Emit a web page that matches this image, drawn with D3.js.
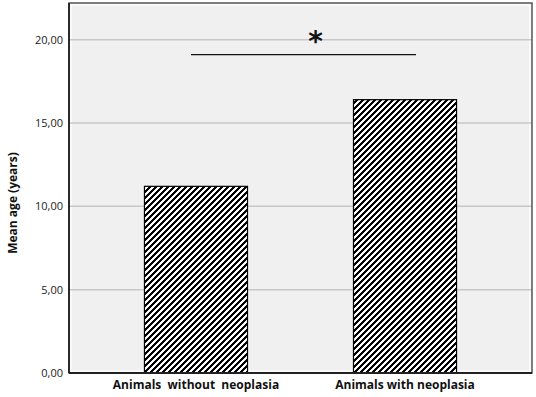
<!DOCTYPE html>
<html><head><meta charset="utf-8">
<script src="https://cdn.jsdelivr.net/npm/d3@7/dist/d3.min.js"></script>
<style>html,body{margin:0;padding:0;background:#fff;}</style>
</head><body>
<script>
const categories = ["Animals  without  neoplasia", "Animals with neoplasia"];
const meanAge = [11.2, 16.4];
const yTicks = [0, 5, 10, 15, 20];
const yLabel = "Mean age (years)";
const sigLabel = "*";
const sigPair = [0, 1];
const sigLevel = 19.1;

const W = 536, H = 397;
const m = {left: 69, right: 4, top: 3, bottom: 24};
const svg = d3.select("body").append("svg").attr("width", W).attr("height", H)
  .style("font-family", "'Open Sans', 'Liberation Sans', sans-serif");

const x = d3.scaleBand().domain(categories).range([m.left, W - m.right])
  .paddingInner(0.507).paddingOuter(0.361);
const y = d3.scaleLinear().domain([0, 22.2]).range([H - m.bottom, m.top]);

// crisp pixel hatch pattern ("/" diagonals)
const P = 6;
const defs = svg.append("defs");
const pat = defs.append("pattern").attr("id", "hatch").attr("patternUnits", "userSpaceOnUse")
  .attr("width", P).attr("height", P);
pat.append("rect").attr("width", P).attr("height", P).attr("fill", "#fff");
const cells = [];
for (let r = 0; r < P; r++) for (let k = 0; k < 3; k++) cells.push([((P - 1 - r + k) % P + P) % P, r]);
pat.selectAll("rect.px").data(cells).join("rect").attr("class", "px")
  .attr("x", d => d[0]).attr("y", d => d[1]).attr("width", 1).attr("height", 1)
  .attr("fill", "#000").attr("shape-rendering", "crispEdges");

// plot background
svg.append("rect").attr("x", m.left).attr("y", m.top)
  .attr("width", W - m.right - m.left).attr("height", H - m.bottom - m.top)
  .attr("fill", "#f0f0f0");
svg.append("rect").attr("x", m.left + 2).attr("y", m.top + 2)
  .attr("width", W - m.right - m.left - 4).attr("height", H - m.bottom - m.top - 4)
  .attr("fill", "none").attr("stroke", "#fff").attr("stroke-width", 1.2);

// gridlines
svg.append("g").selectAll("line").data(yTicks.filter(d => d > 0)).join("line")
  .attr("x1", m.left).attr("x2", W - m.right)
  .attr("y1", d => y(d)).attr("y2", d => y(d))
  .attr("stroke", "#c8c8c8").attr("stroke-width", 1.5);

// bars
svg.append("g").selectAll("rect").data(meanAge).join("rect")
  .attr("x", (d, i) => x(categories[i]))
  .attr("width", x.bandwidth())
  .attr("y", d => y(d))
  .attr("height", d => y(0) - y(d))
  .attr("fill", "url(#hatch)")
  .attr("stroke", "#000").attr("stroke-width", 1.2);

// frame
svg.append("rect").attr("x", m.left).attr("y", m.top)
  .attr("width", W - m.right - m.left).attr("height", H - m.bottom - m.top)
  .attr("fill", "none").attr("stroke", "#555").attr("stroke-width", 1.5);
svg.append("line").attr("x1", m.left).attr("x2", m.left).attr("y1", m.top).attr("y2", H - m.bottom)
  .attr("stroke", "#222").attr("stroke-width", 1.8);
svg.append("line").attr("x1", m.left).attr("x2", W - m.right).attr("y1", H - m.bottom).attr("y2", H - m.bottom)
  .attr("stroke", "#222").attr("stroke-width", 1.8);

// y axis
const yAxis = svg.append("g").attr("transform", `translate(${m.left},0)`)
  .call(d3.axisLeft(y).tickValues(yTicks).tickSize(0).tickPadding(6)
    .tickFormat(d => d3.format(".2f")(d).replace(".", ",")));
yAxis.select(".domain").remove();
yAxis.selectAll("text").attr("font-size", 11).attr("fill", "#222")
  .style("font-family", "'Open Sans', 'Liberation Sans', sans-serif");

// x axis
const xAxis = svg.append("g").attr("transform", `translate(0,${H - m.bottom})`)
  .call(d3.axisBottom(x).tickSize(0).tickPadding(7));
xAxis.select(".domain").remove();
xAxis.selectAll("text").attr("font-size", 12).attr("font-weight", "bold").attr("fill", "#111")
  .style("white-space", "pre")
  .style("font-family", "'Open Sans', 'Liberation Sans', sans-serif");

// y label
svg.append("text").attr("transform", `translate(17,${(m.top + H - m.bottom) / 2 + 15}) rotate(-90)`)
  .attr("text-anchor", "middle").attr("font-size", 12).attr("font-weight", "bold").attr("fill", "#111")
  .text(yLabel);

// significance
const sx1 = x(categories[sigPair[0]]) + x.bandwidth() / 2 - 5;
const sx2 = x(categories[sigPair[1]]) + x.bandwidth() / 2 + 11;
svg.append("line").attr("x1", sx1).attr("x2", sx2).attr("y1", y(sigLevel)).attr("y2", y(sigLevel))
  .attr("stroke", "#111").attr("stroke-width", 1.3);
svg.append("text").attr("x", (x(categories[0]) + x(categories[1]) + x.bandwidth()) / 2 + 15)
  .attr("y", y(sigLevel) - 4)
  .attr("text-anchor", "middle").attr("font-size", 28).attr("font-weight", "bold").attr("fill", "#111")
  .style("font-family", "'DejaVu Sans', sans-serif")
  .text(sigLabel);
</script>
</body></html>
